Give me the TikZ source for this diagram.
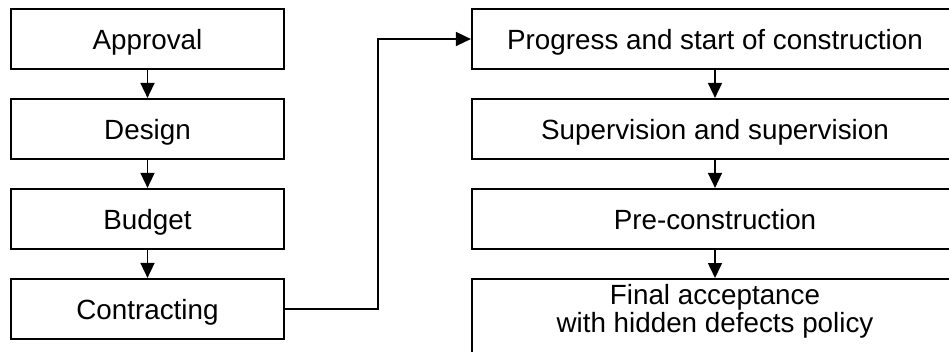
\documentclass[tikz,border=0pt]{standalone}
\usepackage{fontspec}
\setmainfont{Liberation Sans}
\usetikzlibrary{arrows.meta}
\begin{document}
\begin{tikzpicture}[x=1pt,y=-1pt,
  stage/.style={draw, line width=2.2pt, inner sep=0pt, minimum height=60pt,
    font=\fontsize{27.8}{28}\selectfont, text height=20pt, text depth=0pt},
  leftstage/.style={stage, minimum width=273pt},
  rightstage/.style={stage, minimum width=486pt},
  flow/.style={line width=1.6pt, -{Triangle[length=15pt,width=14pt]}}]
\useasboundingbox (0,0) rectangle (949,351);
\clip (0,0) rectangle (949,351);
% preparation stages
\node[leftstage] (approval)    at (147.5,39)  {Approval};
\node[leftstage] (design)      at (147.5,129) {Design};
\node[leftstage] (budget)      at (147.5,219) {Budget};
\node[leftstage] (contracting) at (147.5,309) {Contracting};
% construction stages
\node[rightstage] (progress)    at (715,39)  {Progress and start of construction};
\node[rightstage] (supervision) at (715,129) {Supervision and supervision};
\node[rightstage] (precon)      at (715,219) {Pre-construction};
\node[rightstage, anchor=north, minimum height=80pt, align=center,
      text height=46pt, text depth=20pt] (accept) at (715,278)
      {Final acceptance\\with hidden defects policy};
% connectors
\draw[flow] (approval) -- (design);
\draw[flow] (design) -- (budget);
\draw[flow] (budget) -- (contracting);
\coordinate (turn) at (378,0);
\draw[flow] (contracting.east) -| (turn |- progress.west) -- (progress.west);
\draw[flow] (progress) -- (supervision);
\draw[flow] (supervision) -- (precon);
\draw[flow] (precon) -- (accept);
\end{tikzpicture}
\end{document}
